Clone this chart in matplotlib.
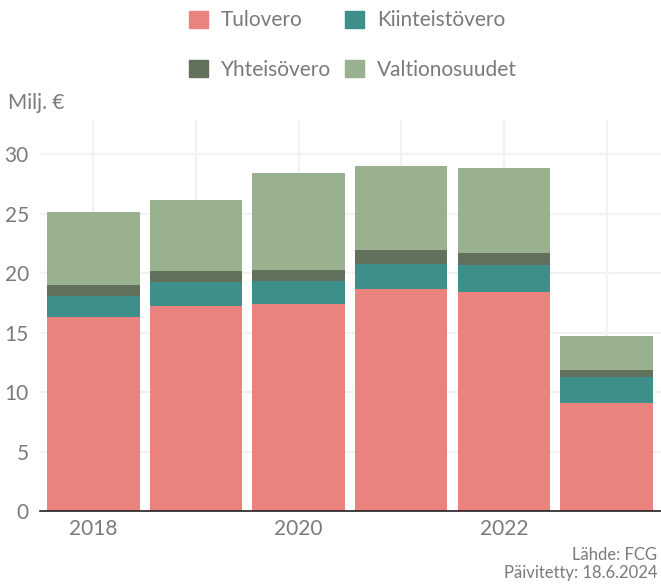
import numpy as np
import matplotlib.pyplot as plt
from matplotlib.patches import Patch

plt.rcParams['font.family'] = ['Lato', 'DejaVu Sans']

years = ['2018', '2019', '2020', '2021', '2022', '2023']
tulovero = [16.35, 17.28, 17.45, 18.71, 18.46, 9.10]
kiinteistovero = [1.77, 2.02, 1.94, 2.11, 2.28, 2.19]
yhteisovero = [0.93, 0.93, 0.92, 1.18, 1.01, 0.59]
valtionosuudet = [6.07, 5.98, 8.10, 7.00, 7.08, 2.87]

series = [
    ('Tulovero', tulovero, '#ea837e'),
    ('Kiinteistövero', kiinteistovero, '#3e8e8a'),
    ('Yhteisövero', yhteisovero, '#61715c'),
    ('Valtionosuudet', valtionosuudet, '#99b18e'),
]

txt = '#7a7a7a'

fig = plt.figure(figsize=(6.61, 5.85), dpi=100)
ax = fig.add_axes([40 / 661, 1 - 511 / 585, 621 / 661, 391 / 585])

x = np.arange(len(years))
bottom = np.zeros(len(years))
for name, vals, col in series:
    ax.bar(x, vals, width=0.9, bottom=bottom, color=col, label=name, zorder=3)
    bottom += np.array(vals)

ax.set_xlim(-0.52, 5.53)
ax.set_ylim(0, 32.9)
ax.set_yticks([0, 5, 10, 15, 20, 25, 30])
ax.set_xticks(x)
ax.set_xticklabels([y if i % 2 == 0 else '' for i, y in enumerate(years)])
ax.grid(True, color='#f2f2f2', linewidth=1.5, zorder=0)
ax.tick_params(axis='both', length=0, labelsize=15, labelcolor=txt)
ax.tick_params(axis='y', pad=8)
ax.tick_params(axis='x', pad=6)
for s in ['top', 'right', 'left']:
    ax.spines[s].set_visible(False)
ax.spines['bottom'].set_color('#222222')
ax.spines['bottom'].set_linewidth(1.2)
ax.spines['bottom'].set_zorder(4)

fig.text(8 / 661, 1 - 103 / 585, 'Milj. €', fontsize=15, color=txt, va='center', ha='left')

handles = [Patch(color=c, label=n) for n, _, c in series]
order = [0, 2, 1, 3]
fig.legend([handles[i] for i in order], [series[i][0] for i in order],
           ncol=2, loc='center', bbox_to_anchor=(353 / 661, 1 - 45 / 585),
           frameon=False, fontsize=15, labelcolor=txt,
           handlelength=0.9, handleheight=0.9, handletextpad=0.6,
           columnspacing=0.7, labelspacing=1.4)

fig.text(657 / 661, 1 - 555 / 585, 'Lähde: FCG', fontsize=12, color=txt, ha='right', va='center')
fig.text(657 / 661, 1 - 573 / 585, 'Päivitetty: 18.6.2024', fontsize=12, color=txt, ha='right', va='center')

fig.savefig('out.png', dpi=100)
